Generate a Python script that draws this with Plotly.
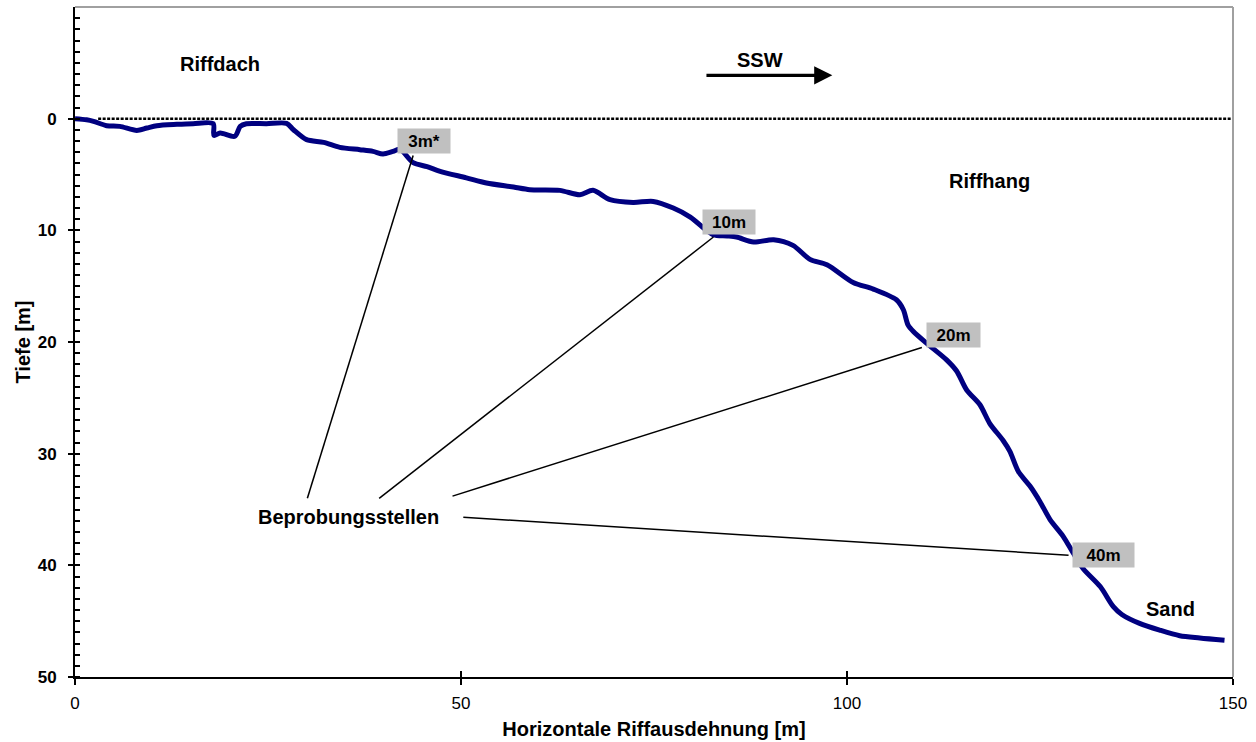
import plotly.graph_objects as go

# ---- data ----
profile_x = [0, 1.5, 2.4, 4.1, 5.8, 8.0, 9.3, 10.6, 13.2, 15.3, 17.9, 18.0, 18.8, 20.7, 21.4, 22.2,
             24.8, 27.4, 28.3, 30.0, 32.2, 34.3, 36.9, 38.6, 39.9, 41.2, 42.1, 43.8, 45.6, 47.3,
             50.7, 53.3, 56.8, 58.9, 62.8, 65.4, 67.1, 69.3, 72.3, 74.9, 77.5, 79.7, 81.8, 82.7,
             84.5, 85.7, 87.9, 90.5, 93.0, 95.2, 97.4, 100.8, 103.4, 106.4, 107.3, 107.9, 108.6,
             110.3, 112.9, 114.2, 115.5, 117.2, 118.5, 120.2, 121.1, 122.2, 123.7, 125.0, 126.3,
             128.0, 129.3, 130.6, 132.8, 134.5, 135.6, 137.9, 140.5, 143.1, 145.7, 148.9]
profile_depth = [0.0, 0.1, 0.24, 0.63, 0.69, 1.05, 0.84, 0.63, 0.51, 0.45, 0.45, 1.5, 1.28, 1.58, 0.69, 0.45,
                 0.45, 0.42, 0.99, 1.88, 2.12, 2.57, 2.78, 2.93, 3.16, 2.93, 2.75, 3.94, 4.3, 4.72,
                 5.3, 5.76, 6.12, 6.36, 6.42, 6.81, 6.42, 7.26, 7.5, 7.41, 8.0, 8.81, 10.0, 10.4,
                 10.5, 10.6, 11.05, 10.84, 11.35, 12.6, 13.08, 14.67, 15.26, 16.22, 17.11, 18.46, 19.06,
                 20.1, 21.6, 22.6, 24.3, 25.6, 27.3, 28.8, 29.8, 31.6, 32.9, 34.3, 35.9,
                 37.4, 38.9, 40.3, 41.9, 43.7, 44.4, 45.2, 45.8, 46.3, 46.5, 46.7]

sea_level_x = [3, 150]
sea_level_y = [0, 0]

x_tickvals = [0, 50, 100, 150]
y_tickvals = [0, 10, 20, 30, 40, 50]

site_labels = ["3m*", "10m", "20m", "40m"]
site_label_x = [45.27, 84.74, 113.77, 133.2]
site_label_y = [2.0, 9.26, 19.38, 39.11]
site_label_w = [52, 52, 53, 61]
leader_start_x = [43.8, 82.7, 109.7, 128.7]
leader_start_y = [3.3, 10.6, 20.5, 39.1]
leader_end_x = [30.1, 39.4, 48.9, 50.3]
leader_end_y = [34.0, 34.0, 33.8, 35.7]

region_texts = ["Riffdach", "SSW", "Riffhang", "Sand", "Beprobungsstellen"]
region_x = [18.74, 88.7, 118.4, 141.9, 35.4]
region_y = [-4.93, -5.29, 5.56, 43.95, 35.68]

arrow_tail = (81.6, -3.88)
arrow_tip = (98.1, -3.88)

FONT = "Liberation Sans, Arial, sans-serif"

fig = go.Figure()
fig.add_trace(go.Scatter(
    x=profile_x, y=profile_depth, mode="lines",
    line=dict(color="#000080", width=5, shape="spline", smoothing=0.8),
    hoverinfo="skip", showlegend=False))
fig.add_trace(go.Scatter(
    x=sea_level_x, y=sea_level_y, mode="lines", xaxis="x2",
    line=dict(color="black", width=2.5, dash="3px,1.5px"),
    hoverinfo="skip", showlegend=False))

shapes = []
for sx, sy, ex, ey in zip(leader_start_x, leader_start_y, leader_end_x, leader_end_y):
    shapes.append(dict(type="line", xref="x", yref="y", x0=sx, y0=sy, x1=ex, y1=ey,
                       line=dict(color="black", width=1.5)))
# plot-area border (top and right, grey)
shapes.append(dict(type="line", xref="paper", yref="paper", x0=0, y0=1, x1=1, y1=1,
                   line=dict(color="#a0a0a0", width=2)))
shapes.append(dict(type="line", xref="paper", yref="paper", x0=1, y0=0, x1=1, y1=1,
                   line=dict(color="#a0a0a0", width=2)))

annotations = []
for t, x, y, w in zip(site_labels, site_label_x, site_label_y, site_label_w):
    annotations.append(dict(x=x, y=y, xref="x", yref="y", text="<b>%s</b>" % t, showarrow=False,
                            bgcolor="#c0c0c0", width=w, height=24, borderpad=0,
                            font=dict(family=FONT, size=17, color="black")))
for t, x, y in zip(region_texts, region_x, region_y):
    annotations.append(dict(x=x, y=y, xref="x", yref="y", text="<b>%s</b>" % t, showarrow=False,
                            font=dict(family=FONT, size=20, color="black")))
annotations.append(dict(x=arrow_tip[0], y=arrow_tip[1], ax=arrow_tail[0], ay=arrow_tail[1],
                        xref="x", yref="y", axref="x", ayref="y", text="", showarrow=True,
                        arrowhead=2, arrowsize=1.1, arrowwidth=3.3, arrowcolor="black", standoff=0))

fig.update_layout(
    width=1256, height=742,
    margin=dict(l=75, r=23, t=7, b=65),
    paper_bgcolor="white", plot_bgcolor="white",
    font=dict(family=FONT, color="black"),
    shapes=shapes, annotations=annotations,
    xaxis=dict(range=[0, 150], tickvals=x_tickvals, ticks="outside", ticklen=6, tickwidth=1.5,
               tickcolor="black", showline=True, linecolor="black", linewidth=1.5,
               showgrid=False, zeroline=False, tickfont=dict(size=17), ticklabelstandoff=4,
               title=dict(text="<b>Horizontale Riffausdehnung [m]</b>", font=dict(size=20), standoff=10),
               automargin=False),
    xaxis2=dict(range=[0, 150], overlaying="x", anchor="y", side="bottom", tickvals=x_tickvals,
                ticks="inside", ticklen=6, tickwidth=1.5, tickcolor="black", showticklabels=False,
                showline=False, showgrid=False, zeroline=False),
    yaxis=dict(range=[50, -10], tickvals=y_tickvals, ticks="outside", ticklen=5, tickwidth=1.5,
               tickcolor="black", showline=True, linecolor="black", linewidth=2,
               showgrid=False, zeroline=False, tickfont=dict(size=17, weight="bold"),
               ticklabelstandoff=8,
               minor=dict(tickmode="linear", tick0=0, dtick=1, ticks="inside", ticklen=5,
                          tickwidth=1.5, tickcolor="black", showgrid=False),
               title=dict(text="<b>Tiefe [m]</b>", font=dict(size=20), standoff=2),
               automargin=False),
)

fig.write_html("out.html")
